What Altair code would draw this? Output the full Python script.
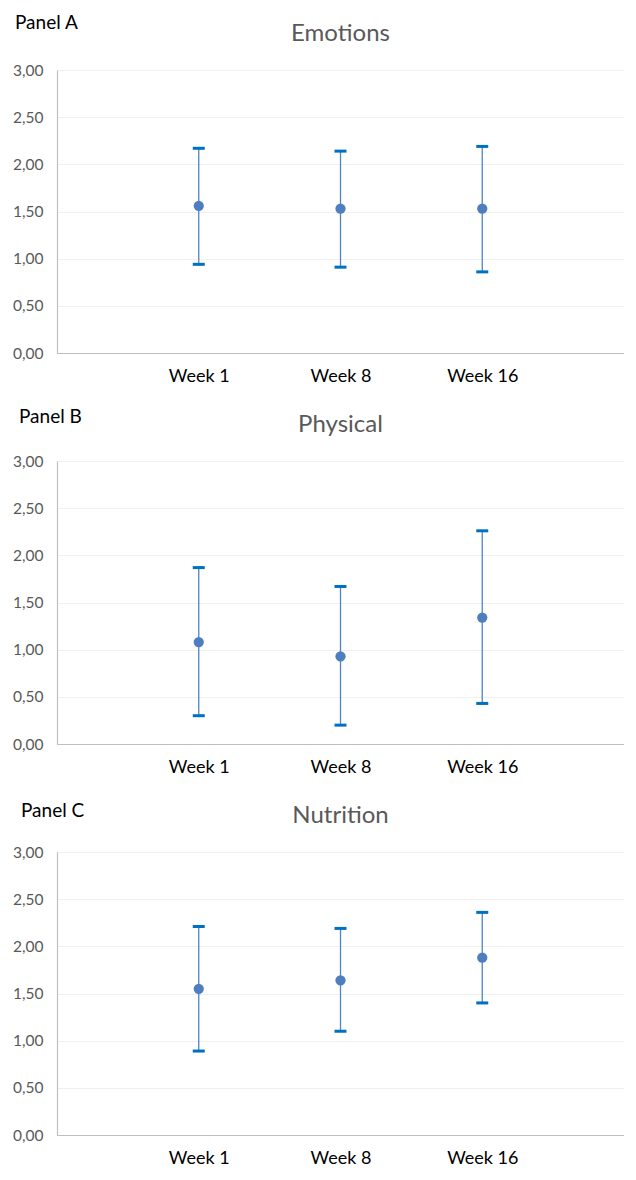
import altair as alt
import pandas as pd

weeks = ["Week 1", "Week 8", "Week 16"]

panel_labels = ["Panel A", "Panel B", "Panel C"]
panel_titles = ["Emotions", "Physical", "Nutrition"]

emotions_mean = [1.56, 1.53, 1.53]
emotions_low = [0.94, 0.91, 0.86]
emotions_high = [2.17, 2.14, 2.19]

physical_mean = [1.08, 0.93, 1.34]
physical_low = [0.30, 0.20, 0.43]
physical_high = [1.87, 1.67, 2.26]

nutrition_mean = [1.55, 1.64, 1.88]
nutrition_low = [0.89, 1.10, 1.40]
nutrition_high = [2.21, 2.19, 2.36]

y_ticks = [0, 0.5, 1.0, 1.5, 2.0, 2.5, 3.0]

FONT = "Lato"
W = 567
H = 283


def panel(label, title, mean, low, high, lx, ly):
    df = pd.DataFrame({"week": weeks, "mean": mean, "low": low, "high": high})
    base = alt.Chart(df)
    x = alt.X(
        "week:N",
        sort=weeks,
        scale=alt.Scale(type="point", padding=1),
        axis=alt.Axis(
            title=None, labelAngle=0, ticks=False, grid=False,
            domainColor="#BFBFBF", domainWidth=1.2,
            labelFontSize=18, labelColor="#000000", labelFont=FONT,
            labelPadding=14, labelBaseline="top",
        ),
    )
    yscale = alt.Scale(domain=[0, 3], nice=False, zero=True)
    y_axis = alt.Axis(
        title=None, values=y_ticks,
        labelExpr="replace(format(datum.value, '.2f'), '.', ',')",
        ticks=False, grid=True, gridColor="#F0F0F0", gridWidth=1.2,
        domainColor="#BFBFBF", domainWidth=1.2,
        labelFontSize=15.5, labelColor="#595959", labelFont=FONT,
        labelPadding=14,
    )
    rule = base.mark_rule(color="#4A86C8", strokeWidth=1.3).encode(
        x=x, y=alt.Y("low:Q", scale=yscale, axis=y_axis), y2="high:Q"
    )
    cap_hi = base.mark_tick(color="#0070C0", thickness=3, size=12, opacity=1).encode(
        x=x, y=alt.Y("high:Q", scale=yscale, title=None)
    )
    cap_lo = base.mark_tick(color="#0070C0", thickness=3, size=12, opacity=1).encode(
        x=x, y=alt.Y("low:Q", scale=yscale, title=None)
    )
    pts = base.mark_circle(size=105, color="#4F7EC0", opacity=1).encode(
        x=x, y=alt.Y("mean:Q", scale=yscale, title=None)
    )
    lab = alt.Chart(pd.DataFrame({"t": [label]})).mark_text(
        align="left", baseline="top", fontSize=19, font=FONT, color="#000000"
    ).encode(text="t:N", x=alt.value(lx), y=alt.value(ly))
    ttl = alt.Chart(pd.DataFrame({"t": [title]})).mark_text(
        align="center", baseline="top", fontSize=24, font=FONT, color="#595959"
    ).encode(text="t:N", x=alt.value(W / 2), y=alt.value(-48))
    return alt.layer(rule, cap_hi, cap_lo, pts, lab, ttl).properties(width=W, height=H)


a = panel(panel_labels[0], panel_titles[0], emotions_mean, emotions_low, emotions_high, -42, -56)
b = panel(panel_labels[1], panel_titles[1], physical_mean, physical_low, physical_high, -38, -53)
c = panel(panel_labels[2], panel_titles[2], nutrition_mean, nutrition_low, nutrition_high, -36, -50)

chart = alt.vconcat(a, b, c, spacing=108, bounds="flush").properties(
    padding={"left": 4, "top": 6, "right": 0, "bottom": 0}
).configure_view(stroke=None)

chart.save("out.html", embed_options={"renderer": "svg", "actions": False})
